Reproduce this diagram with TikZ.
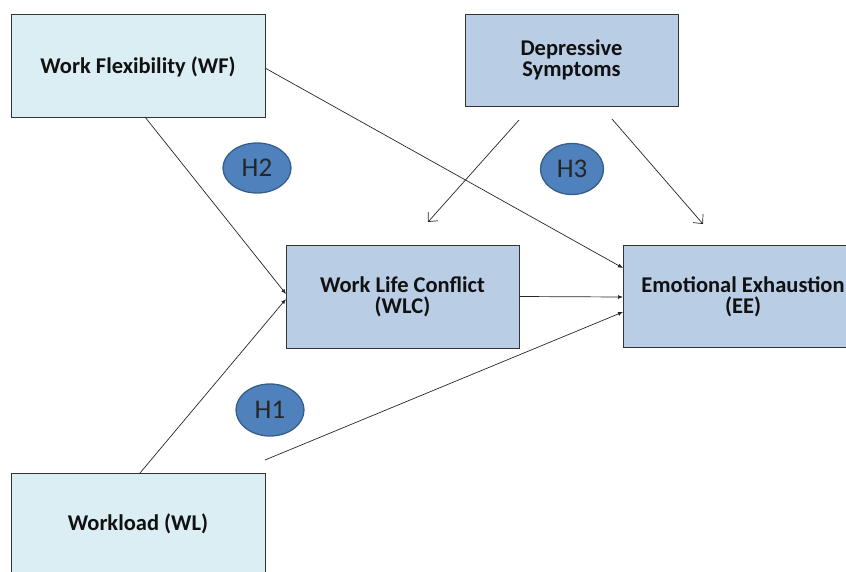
\documentclass[tikz,border=0pt]{standalone}
\usepackage{fontspec}
\setmainfont{Carlito}
\usetikzlibrary{arrows.meta,shapes.geometric}
\definecolor{lightbox}{HTML}{DBEEF4}
\definecolor{midbox}{HTML}{B9CDE5}
\definecolor{hfill}{HTML}{4F81BD}
\definecolor{hdraw}{HTML}{385D8A}
\definecolor{txt}{HTML}{111111}
\begin{document}
\begin{tikzpicture}[x=1pt,y=-1pt,
  bfont/.style={font=\fontsize{22.5}{21}\selectfont\bfseries, text=txt, align=center},
  boxA/.style={draw=black!80, line width=1pt, fill=lightbox, inner sep=0pt, bfont},
  boxB/.style={draw=black!80, line width=1pt, fill=midbox, inner sep=0pt, bfont},
  hyp/.style={ellipse, draw=hdraw, line width=1.3pt, fill=hfill, font=\fontsize{27}{27}\selectfont, text=black!85, inner sep=0pt},
  conn/.style={draw=black!85, line width=0.7pt, -{Latex[length=5pt,width=4pt]}},
  openarr/.style={draw=black!85, line width=0.7pt, -{Straight Barb[length=7pt,width=13pt]}}
]
\useasboundingbox (0,0) rectangle (846,571);
\begin{scope}
\clip (0,0) rectangle (846,571);
\node[boxA, minimum width=254pt, minimum height=103pt] (wf) at (138,65.5) {};
\node[bfont] (wft) at (138,67) {Work Flexibility (WF)};
\node[boxB, minimum width=213pt, minimum height=92pt] (ds) at (571.5,60) {Depressive\\Symptoms};
\node[boxB, minimum width=233pt, minimum height=103pt] (wlc) at (402.5,296.5) {Work Life Conflict\\(WLC)};
\node[boxB, minimum width=240pt, minimum height=102pt, anchor=north west] (ee) at (623,245) {};
\node[bfont] (eet) at (743,296.5) {Emotional Exhaustion\\(EE)};
\node[boxA, minimum width=254pt, minimum height=110pt, anchor=north west] (wl) at (11,473) {};
\node[bfont] (wlt) at (138,524) {Workload (WL)};
\end{scope}
\node[hyp, minimum width=68pt, minimum height=50pt] (h2) at (257,168) {H2};
\node[hyp, minimum width=63pt, minimum height=51pt] (h3) at (572,169) {H3};
\node[hyp, minimum width=68pt, minimum height=52pt] (h1) at (270,410) {H1};
\coordinate (ee1) at (623,268);
\coordinate (ee2) at (623,297);
\coordinate (ee3) at (623,312);
\coordinate (wlc1) at (286,294);
\coordinate (wlc2) at (286,299);
\coordinate (wfb) at (145,117);
\coordinate (wfr) at (265,68);
\coordinate (wlr) at (265,460);
\coordinate (wlt2) at (140,473);
\coordinate (ds1) at (519,120);
\coordinate (ds1e) at (428,222);
\coordinate (ds2) at (612,119);
\coordinate (ds2e) at (703,224);
\draw[conn] (wfb) -- (wlc1);
\draw[conn] (wfr) -- (ee1);
\draw[conn] (wlt2) -- (wlc2);
\draw[conn] (wlr) -- (ee3);
\draw[conn] (wlc.east) -- (ee2);
\draw[openarr] (ds1) -- (ds1e);
\draw[openarr] (ds2) -- (ds2e);
\end{tikzpicture}
\end{document}
